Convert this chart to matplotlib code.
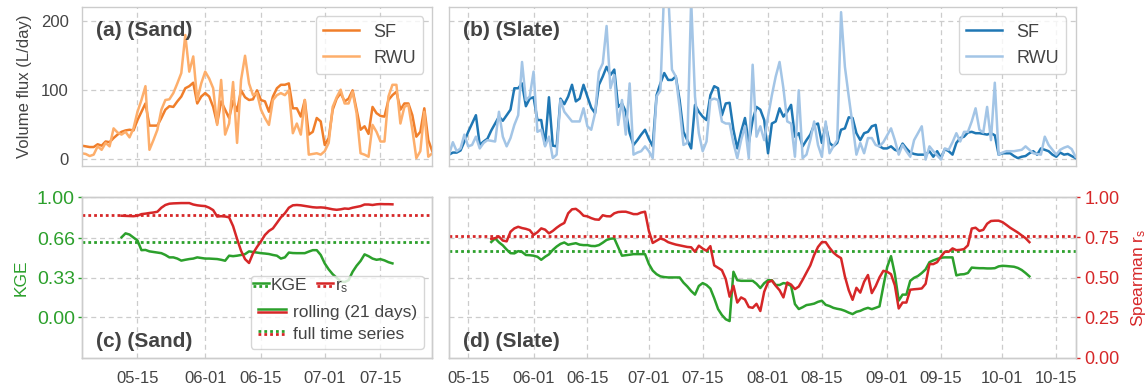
import numpy as np
import pandas as pd
import matplotlib
matplotlib.use('Agg')
import matplotlib.pyplot as plt
import matplotlib.dates as mdates
from matplotlib.lines import Line2D
from matplotlib.legend_handler import HandlerBase

# daily volume fluxes (L/day), Sand from 05-01, Slate from 05-10
sand_sf = [20, 19, 18, 18, 22, 20, 26, 25, 31, 36,
           40, 42, 43, 42, 57, 69, 81, 49, 49, 49,
           60, 72, 77, 76, 84, 91, 103, 106, 111, 81,
           91, 96, 91, 76, 52, 84, 72, 60, 85, 70,
           100, 90, 86, 87, 100, 86, 84, 69, 91, 103,
           108, 108, 110, 74, 74, 62, 86, 36, 40, 60,
           55, 21, 31, 72, 88, 96, 84, 88, 100, 72,
           43, 48, 37, 76, 67, 63, 62, 86, 93, 98,
           72, 81, 81, 64, 33, 40, 74, 28, 12]
sand_rwu = [9, 8, 5, 7, 19, 14, 24, 19, 45, 39,
            36, 40, 32, 45, 69, 86, 106, 14, 28, 43,
            72, 86, 87, 96, 110, 125, 180, 127, 149, 86,
            110, 127, 117, 103, 50, 115, 36, 52, 112, 24,
            115, 150, 110, 93, 96, 72, 60, 50, 86, 93,
            96, 93, 100, 38, 52, 36, 86, 7, 8, 9,
            7, 12, 24, 76, 90, 101, 81, 81, 98, 67,
            9, 7, 4, 50, 40, 26, 26, 91, 108, 108,
            52, 76, 79, 43, 2, 12, 69, 4, 9]

slate_sf = [7, 10, 10, 13, 26, 40, 52, 64, 21, 26,
            30, 42, 52, 62, 56, 64, 72, 103, 103, 110,
            77, 88, 90, 57, 57, 21, 90, 20, 19, 88,
            80, 91, 108, 84, 88, 108, 91, 75, 67, 108,
            120, 134, 122, 130, 76, 81, 69, 38, 21, 28,
            36, 43, 30, 19, 93, 110, 125, 115, 115, 120,
            86, 40, 28, 16, 79, 69, 62, 57, 93, 106,
            103, 64, 81, 82, 43, 16, 40, 60, 24, 57,
            76, 72, 57, 9, 52, 55, 74, 62, 69, 79,
            33, 38, 19, 28, 36, 50, 52, 24, 50, 24,
            19, 24, 43, 45, 61, 60, 38, 28, 38, 40,
            48, 50, 19, 16, 16, 19, 14, 12, 23, 16,
            10, 8, 7, 7, 7, 12, 4, 12, 2, 15,
            12, 7, 24, 31, 33, 39, 40, 38, 38, 37,
            36, 38, 35, 7, 9, 9, 9, 5, 2, 4,
            5, 9, 12, 7, 16, 14, 12, 7, 4, 10,
            7, 8, 5, 2]
slate_rwu = [7, 25, 12, 16, 36, 19, 21, 33, 16, 24,
             28, 27, 26, 69, 33, 19, 31, 50, 64, 141,
             86, 91, 127, 40, 43, 19, 33, 2, 7, 86,
             69, 62, 55, 55, 55, 74, 48, 43, 67, 127,
             139, 193, 103, 122, 50, 86, 36, 110, 7, 10,
             12, 19, 12, 2, 91, 100, 250, 245, 130, 120,
             75, 21, 24, 230, 91, 38, 12, 26, 86, 88,
             86, 55, 52, 52, 24, 2, 28, 48, 2, 137,
             33, 48, 28, 62, 93, 120, 141, 103, 55, 52,
             4, 100, 2, 7, 28, 55, 21, 4, 55, 9,
             19, 28, 213, 134, 91, 50, 7, 24, 9, 31,
             31, 21, 19, 25, 35, 45, 28, 7, 21, 12,
             4, 28, 38, 48, 0, 19, 12, 6, 0, 16,
             14, 25, 38, 26, 40, 40, 55, 74, 43, 39,
             76, 28, 111, 7, 10, 12, 12, 12, 13, 14,
             19, 14, 9, 8, 7, 33, 21, 14, 7, 14,
             17, 19, 15, 4]

# rolling (21 days) metrics, Sand from 05-11, Slate from 05-21
sand_rs = [.885, .884, .883, .882, .885, .895, .898, .902, .905, .91,
           .935, .952, .96, .962, .963, .964, .964, .964, .955, .95,
           .947, .945, .935, .92, .88, .882, .88, .875, .82, .74,
           .666, .614, .59, .65, .69, .725, .765, .79, .806, .84,
           .875, .90, .935, .95, .952, .95, .946, .942, .938, .936,
           .937, .935, .93, .925, .922, .925, .93, .928, .935, .94,
           .945, .955, .955, .952, .956, .958, .957, .957, .956]
sand_kge = [.667, .70, .69, .665, .64, .56, .562, .55, .545, .54,
            .535, .52, .50, .50, .49, .473, .48, .486, .49, .50,
            .495, .49, .49, .488, .486, .48, .472, .514, .51, .514,
            .52, .527, .55, .545, .54, .535, .532, .528, .52, .514,
            .49, .50, .54, .536, .535, .535, .535, .548, .56, .56,
            .52, .45, .40, .36, .33, .30, .295, .31, .38, .43,
            .47, .525, .51, .49, .48, .485, .475, .46, .45]

slate_rs = [.74, .745, .755, .73, .725, .785, .806, .816, .808, .803,
            .795, .765, .782, .806, .798, .775, .79, .81, .827, .84,
            .90, .925, .928, .91, .885, .881, .87, .862, .86, .888,
            .882, .881, .90, .908, .91, .91, .903, .895, .895, .905,
            .91, .79, .715, .729, .743, .735, .72, .712, .705, .70,
            .695, .69, .688, .66, .698, .68, .666, .695, .575, .56,
            .545, .49, .38, .448, .343, .375, .362, .315, .31, .335,
            .29, .41, .47, .48, .448, .42, .375, .468, .455, .427,
            .443, .485, .53, .575, .64, .69, .72, .72, .685, .655,
            .635, .62, .506, .42, .36, .435, .405, .473, .515, .402,
            .445, .50, .541, .535, .52, .45, .306, .343, .343, .423,
            .426, .428, .431, .46, .583, .583, .595, .63, .66, .66,
            .681, .67, .672, .677, .70, .805, .81, .79, .797, .835,
            .852, .854, .854, .845, .828, .81, .795, .78, .762, .745,
            .72]
slate_kge = [.628, .658, .625, .60, .565, .535, .533, .552, .545, .52,
             .518, .514, .505, .48, .505, .525, .562, .59, .612, .624,
             .605, .612, .618, .606, .602, .602, .595, .594, .602, .622,
             .645, .655, .658, .585, .514, .518, .522, .527, .527, .527,
             .527, .445, .39, .36, .342, .336, .333, .333, .333, .333,
             .29, .258, .22, .19, .262, .286, .27, .24, .16, .07,
             .02, -.015, -.03, .38, .31, .305, .305, .305, .305, .28,
             .245, .285, .31, .31, .27, .27, .286, .28, .262, .111,
             .07, .085, .103, .108, .115, .13, .139, .105, .095, .08,
             .072, .066, .055, .04, .028, .047, .055, .07, .08, .069,
             .08, .092, .26, .42, .51, .36, .14, .19, .19, .305,
             .33, .345, .37, .40, .46, .475, .487, .497, .50, .50,
             .50, .35, .358, .36, .37, .415, .412, .41, .41, .408,
             .408, .41, .425, .43, .428, .425, .422, .412, .395, .37,
             .342]

# metrics over the full time series
sand_full = {'kge': 0.624, 'rs': 0.889}
slate_full = {'kge': 0.555, 'rs': 0.76}

sand_ticks = ['2021-05-15', '2021-06-01', '2021-06-15', '2021-07-01', '2021-07-15']
slate_ticks = ['2021-05-15', '2021-06-01', '2021-06-15', '2021-07-01', '2021-07-15',
               '2021-08-01', '2021-08-15', '2021-09-01', '2021-09-15', '2021-10-01',
               '2021-10-15']
kge_ticks = [0.0, 0.33, 0.66, 1.0]
rs_ticks = [0.0, 0.25, 0.5, 0.75, 1.0]

sand_dates = pd.date_range('2021-05-01', periods=len(sand_sf), freq='D')
slate_dates = pd.date_range('2021-05-10', periods=len(slate_sf), freq='D')
sand_roll_dates = pd.date_range('2021-05-11', periods=len(sand_kge), freq='D')
slate_roll_dates = pd.date_range('2021-05-21', periods=len(slate_kge), freq='D')

GRAY = '#444444'
GREEN = '#2ca02c'
RED = '#d62728'
DOT = (0, (1, 1.1))
LW = 1.8

plt.rcParams['font.family'] = ['Liberation Sans', 'DejaVu Sans']
plt.rcParams['mathtext.default'] = 'regular'
plt.rcParams['text.color'] = GRAY
plt.rcParams['axes.labelcolor'] = GRAY
plt.rcParams['xtick.color'] = GRAY
plt.rcParams['ytick.color'] = GRAY
plt.rcParams['axes.edgecolor'] = '#cccccc'
plt.rcParams['axes.linewidth'] = 1.0


class StackHandler(HandlerBase):
    # draws the lines of a tuple handle one above the other
    def __init__(self, gap=2.4, **kw):
        super().__init__(**kw)
        self.gap = gap

    def create_artists(self, legend, orig_handle, xdescent, ydescent,
                       width, height, fontsize, trans):
        n = len(orig_handle)
        y0 = (height - ydescent) / 2
        out = []
        for i, h in enumerate(orig_handle):
            y = y0 + (0.5 * (n - 1) - i) * self.gap
            ln = Line2D([-xdescent, width - xdescent], [y, y])
            ln.update_from(h)
            ln.set_transform(trans)
            out.append(ln)
        return out


def style_ax(ax, ticks):
    ax.set_xticks(pd.to_datetime(ticks))
    ax.xaxis.set_major_formatter(mdates.DateFormatter('%m-%d'))
    ax.grid(True, color='#cccccc', ls=(0, (4, 3)), lw=0.9)
    ax.tick_params(axis='x', length=0, pad=9.5, labelsize=12)


def plot_flux(ax, dates, sf, rwu, c_sf, c_rwu, title, ticks):
    ax.plot(dates, sf, color=c_sf, lw=LW, label='SF')
    ax.plot(dates, rwu, color=c_rwu, lw=LW, label='RWU')
    ax.set_xlim(dates[0], dates[-1])
    ax.set_ylim(-9, 220)
    ax.set_yticks([0, 100, 200])
    style_ax(ax, ticks)
    ax.tick_params(axis='x', labelbottom=False)
    ax.tick_params(axis='y', length=0, pad=9.5, labelsize=12)
    ax.legend(loc='upper right', fontsize=13)
    ax.annotate(title, xy=(0, 1), xycoords='axes fraction', xytext=(10.3, -17),
                textcoords='offset points', ha='left', va='center',
                fontsize=15, fontweight='bold', color=GRAY)


def plot_metrics(ax, dates, kge, rs, full, title, ticks, x_end):
    ax2 = ax.twinx()
    ax.plot(dates, kge, color=GREEN, lw=LW)
    ax.axhline(full['kge'], color=GREEN, ls=DOT, lw=2)
    ax2.plot(dates, rs, color=RED, lw=LW)
    ax2.axhline(full['rs'], color=RED, ls=DOT, lw=2)
    ax.set_xlim(x_end)
    ax.set_ylim(-1 / 3, 1)
    ax2.set_ylim(0, 1)
    ax.set_yticks(kge_ticks)
    ax.set_yticklabels(['%.2f' % t for t in kge_ticks])
    ax2.set_yticks(rs_ticks)
    ax2.set_yticklabels(['%.2f' % t for t in rs_ticks])
    style_ax(ax, ticks)
    ax2.grid(False)
    ax.tick_params(axis='y', colors=GREEN, length=3.2, width=1, pad=1.7, labelsize=14)
    ax2.tick_params(axis='y', colors=RED, length=3.2, width=1, pad=3, labelsize=13)
    for s in ax2.spines.values():
        s.set_color('#cccccc')
    ax.annotate(title, xy=(0, 0), xycoords='axes fraction', xytext=(10.3, 11.5),
                textcoords='offset points', ha='left', va='center',
                fontsize=15, fontweight='bold', color=GRAY)
    return ax2


fig = plt.figure(figsize=(11.46, 3.88), dpi=100)
ax_a = fig.add_axes([0.0713, 0.5729, 0.3059, 0.4082])
ax_b = fig.add_axes([0.3918, 0.5729, 0.5467, 0.4082])
ax_c = fig.add_axes([0.0713, 0.0786, 0.3059, 0.4129])
ax_d = fig.add_axes([0.3918, 0.0786, 0.5467, 0.4129])

plot_flux(ax_a, sand_dates, sand_sf, sand_rwu, '#f07e2a', '#fdae6b', '(a) (Sand)', sand_ticks)
plot_flux(ax_b, slate_dates, slate_sf, slate_rwu, '#1f77b4', '#a3c5e6', '(b) (Slate)', slate_ticks)
ax_a.set_ylabel('Volume flux (L/day)', fontsize=12, labelpad=6)
ax_b.tick_params(axis='y', labelleft=False)

ax_c2 = plot_metrics(ax_c, sand_roll_dates, sand_kge, sand_rs, sand_full, '(c) (Sand)',
                     sand_ticks, (sand_dates[0], sand_dates[-1]))
ax_d2 = plot_metrics(ax_d, slate_roll_dates, slate_kge, slate_rs, slate_full, '(d) (Slate)',
                     slate_ticks, (slate_dates[0], slate_dates[-1]))
ax_c.set_ylabel('KGE', color=GREEN, fontsize=12.5, labelpad=6)
ax_c2.tick_params(axis='y', right=False, labelright=False)
ax_d.tick_params(axis='y', left=False, labelleft=False)
ax_d2.set_ylabel('Spearman r$_s$', color=RED, fontsize=12.5, labelpad=7)

# legend of panel (c): two stacked rows of entries in one frame
h_kge = (Line2D([], [], color=GREEN, lw=LW), Line2D([], [], color=GREEN, lw=2, ls=DOT))
h_rs = (Line2D([], [], color=RED, lw=LW), Line2D([], [], color=RED, lw=2, ls=DOT))
h_roll = (Line2D([], [], color=GREEN, lw=LW), Line2D([], [], color=RED, lw=LW))
h_full = (Line2D([], [], color=GREEN, lw=2, ls=DOT), Line2D([], [], color=RED, lw=2, ls=DOT))
hmap = {tuple: StackHandler()}
leg_main = ax_c2.legend([h_roll, h_full], ['rolling (21 days)', 'full time series'],
                        handler_map=hmap, loc='lower right', fontsize=12.5, title=' ',
                        title_fontsize=12.5, handlelength=1.6, handletextpad=0.4,
                        labelspacing=0.4)
ax_c2.add_artist(leg_main)
ax_c2.legend([h_kge, h_rs], ['KGE', 'r$_s$'], handler_map=hmap, ncol=2, frameon=False,
             loc='center left', bbox_to_anchor=(0.488, 0.442), borderpad=0,
             borderaxespad=0, fontsize=12.5, handlelength=0.92, handletextpad=0.13,
             columnspacing=0.55)

fig.savefig('out.png', dpi=100)
